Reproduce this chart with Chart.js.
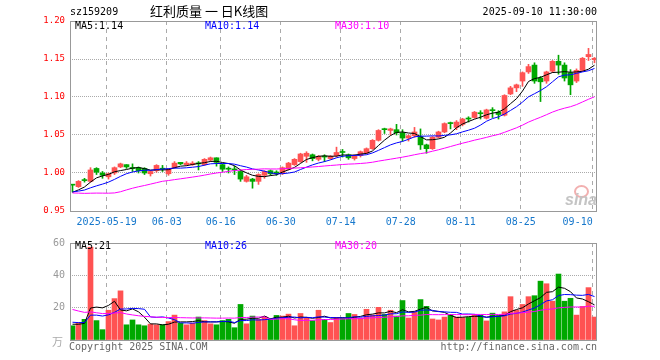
<!DOCTYPE html>
<html>
<head>
<meta charset="utf-8">
<script src="https://cdn.jsdelivr.net/npm/chart.js@4.4.1/dist/chart.umd.min.js"></script>
<style>
html, body { margin: 0; padding: 0; background: #fff; }
#wrap { position: relative; width: 660px; height: 360px; overflow: hidden; background: #fff;
        font-family: "DejaVu Sans Mono", monospace; font-size: 10px; }
#wrap canvas { position: absolute; left: 0; }
.t { position: absolute; white-space: pre; line-height: 12px; }
</style>
</head>
<body>
<div id="wrap">
  <canvas id="priceChart" width="660" height="232" style="top:0;width:660px;height:232px"></canvas>
  <canvas id="volChart" width="660" height="128" style="top:232px;width:660px;height:128px"></canvas>

  <div class="t" style="left:70px;top:6px;">sz159209</div>
  <div class="t" style="left:150px;top:3px;font:13px 'Noto Sans CJK SC';line-height:16px;">红利质量 一 日K线图</div>
  <div class="t" style="right:63px;top:6px;">2025-09-10 11:30:00</div>

  <div class="t" id="ma5Label" style="left:75px;top:20px;color:#000;"></div>
  <div class="t" id="ma10Label" style="left:205px;top:20px;color:#0000ff;"></div>
  <div class="t" id="ma30Label" style="left:335px;top:20px;color:#ff00ff;"></div>

  <div class="t" id="vma5Label" style="left:75px;top:240px;color:#000;"></div>
  <div class="t" id="vma10Label" style="left:205px;top:240px;color:#0000ff;"></div>
  <div class="t" id="vma30Label" style="left:335px;top:240px;color:#ff00ff;"></div>

  <div class="t" style="left:52px;top:333px;color:#aaa;font:11px 'Noto Sans CJK SC';">万</div>
  <div class="t" style="left:69px;top:341px;color:#666;">Copyright 2025 SINA.COM</div>
  <div class="t" style="right:63px;top:341px;color:#666;">http://finance.sina.com.cn</div>

  <div style="position:absolute;left:574px;top:185px;width:11px;height:9px;border:2px solid #f2b0b0;border-radius:50%;"></div>
  <div class="t" style="left:565px;top:192px;color:#c4c4c4;font:italic bold 16px 'Liberation Sans';line-height:16px;">sina</div>
</div>

<script>
// trading days shown (2025)
const dates = [
  '05-09','05-12','05-13','05-14','05-15','05-16','05-19','05-20','05-21','05-22','05-23',
  '05-26','05-27','05-28','05-29','05-30','06-03','06-04','06-05','06-06',
  '06-09','06-10','06-11','06-12','06-13','06-16','06-17','06-18','06-19','06-20',
  '06-23','06-24','06-25','06-26','06-27','06-30','07-01','07-02','07-03','07-04',
  '07-07','07-08','07-09','07-10','07-11','07-14','07-15','07-16','07-17','07-18',
  '07-21','07-22','07-23','07-24','07-25','07-28','07-29','07-30','07-31','08-01',
  '08-04','08-05','08-06','08-07','08-08','08-11','08-12','08-13','08-14','08-15',
  '08-18','08-19','08-20','08-21','08-22','08-25','08-26','08-27','08-28','08-29',
  '09-01','09-02','09-03','09-04','09-05','09-08','09-09','09-10'
];

const tickDates = ['05-19','06-03','06-16','06-30','07-14','07-28','08-11','08-25','09-10'];
const tickLabels = ['2025-05-19','06-03','06-16','06-30','07-14','07-28','08-11','08-25','09-10'];
const priceTicks = [0.95, 1.00, 1.05, 1.10, 1.15, 1.20];
const volTicks = [0, 20, 40, 60];

const opens = [
  0.985,0.982,0.991,0.989,1.006,1.000,0.995,1.000,1.008,1.011,
  1.007,1.007,1.006,0.999,1.003,1.006,0.999,1.007,1.014,1.011,
  1.011,1.013,1.011,1.017,1.020,1.011,1.006,1.005,1.002,0.989,
  0.992,0.989,0.997,1.003,1.001,1.000,1.005,1.011,1.015,1.022,
  1.024,1.018,1.022,1.019,1.023,1.028,1.024,1.019,1.023,1.026,
  1.032,1.043,1.058,1.056,1.057,1.053,1.046,1.049,1.048,1.037,
  1.032,1.047,1.054,1.066,1.060,1.064,1.072,1.073,1.079,1.072,
  1.083,1.080,1.076,1.104,1.112,1.121,1.133,1.142,1.125,1.121,
  1.134,1.147,1.142,1.132,1.121,1.135,1.153,1.149
];
const highs = [
  0.985,0.990,0.993,1.007,1.007,1.002,1.000,1.008,1.013,1.011,
  1.012,1.008,1.007,1.003,1.011,1.010,1.006,1.015,1.014,1.015,
  1.015,1.015,1.019,1.021,1.020,1.012,1.008,1.009,1.004,0.997,
  0.993,0.999,1.003,1.004,1.003,1.008,1.014,1.019,1.026,1.028,
  1.025,1.023,1.024,1.023,1.034,1.031,1.025,1.024,1.029,1.033,
  1.044,1.057,1.059,1.059,1.064,1.057,1.050,1.060,1.058,1.038,
  1.048,1.055,1.066,1.067,1.069,1.072,1.074,1.081,1.082,1.084,
  1.086,1.082,1.103,1.114,1.117,1.133,1.143,1.145,1.127,1.134,
  1.148,1.155,1.145,1.136,1.137,1.152,1.164,1.152
];
const lows = [
  0.975,0.981,0.988,0.988,0.998,0.993,0.992,0.998,1.007,1.006,
  1.002,1.000,0.998,0.996,1.001,1.002,0.997,1.006,1.011,1.010,
  1.010,1.004,1.010,1.015,1.009,1.002,1.000,0.998,0.989,0.988,
  0.980,0.985,0.993,0.997,0.997,0.998,1.004,1.010,1.014,1.014,
  1.016,1.016,1.015,1.018,1.021,1.021,1.018,1.017,1.021,1.025,
  1.031,1.042,1.052,1.050,1.050,1.042,1.042,1.047,1.031,1.026,
  1.031,1.046,1.053,1.058,1.057,1.062,1.067,1.072,1.071,1.071,
  1.073,1.071,1.075,1.103,1.107,1.114,1.131,1.118,1.094,1.118,
  1.132,1.130,1.121,1.103,1.119,1.134,1.148,1.145
];
const closes = [
  0.984,0.989,0.990,1.004,1.001,0.997,0.999,1.007,1.012,1.008,
  1.006,1.003,1.000,1.002,1.010,1.005,1.005,1.013,1.012,1.013,
  1.013,1.012,1.018,1.020,1.014,1.005,1.005,1.004,0.992,0.995,
  0.989,0.998,1.002,0.999,1.000,1.007,1.013,1.018,1.025,1.026,
  1.019,1.022,1.021,1.022,1.027,1.027,1.020,1.022,1.028,1.032,
  1.043,1.056,1.057,1.058,1.053,1.046,1.049,1.054,1.037,1.032,
  1.047,1.054,1.065,1.065,1.067,1.071,1.071,1.080,1.078,1.083,
  1.082,1.077,1.102,1.112,1.116,1.132,1.140,1.121,1.120,1.133,
  1.147,1.142,1.125,1.116,1.135,1.151,1.156,1.151
];
// volume, 万手
const volumes = [
  8.8,10.8,12.8,57.4,12.0,6.4,18.4,25.6,30.4,9.4,
  12.4,9.4,8.8,9.8,9.4,9.4,11.4,15.4,10.4,9.4,
  10.4,14.2,12.0,10.0,9.4,12.0,12.8,7.6,22.0,10.0,
  14.8,12.8,14.4,13.2,15.2,14.8,16.0,8.8,16.4,14.0,
  12.0,18.4,12.8,10.8,14.0,13.4,16.4,15.8,13.4,19.0,
  15.4,20.2,15.8,18.4,14.8,24.4,13.6,17.4,25.0,20.8,
  13.0,12.4,14.2,15.8,14.2,14.0,14.0,15.4,15.4,11.8,
  16.6,15.0,17.4,26.8,18.4,22.0,26.8,27.4,36.4,34.8,
  24.0,40.8,24.0,25.8,15.4,20.8,32.4,14.2
];
// 29 sessions before the first bar (off screen), only feed the moving averages
const prevCloses = [
  0.995,1.000,0.998,0.996,0.999,1.001,0.997,
  0.965,0.935,0.940,0.945,0.950,0.948,0.953,0.950,
  0.975,0.978,0.980,0.979,0.978,
  0.977,0.976,0.975,0.975,0.974,
  0.973,0.971,0.972,0.973
];
const prevVolumes = [
  40,38,48,28,22,18,16,
  22,35,30,25,20,18,16,15,
  14,13,14,12,13,
  13,12,12,12,12,
  11,10,10,9
];

const RED = '#ff5252';
const GREEN = '#00a800';
const BLUE = '#1778cc';

function movingAvg(prev, vals, n) {
  const all = prev.concat(vals);
  return vals.map(function(_, i) {
    const end = prev.length + i;
    let s = 0;
    for (let k = end - n + 1; k <= end; k++) s += all[k];
    return s / n;
  });
}

const tickIdx = tickDates.map(d => dates.indexOf(d));
const xs = dates.map((d, i) => i + 0.3);
const colors = closes.map((c, i) => c >= opens[i] ? RED : GREEN);

const ma5 = movingAvg(prevCloses, closes, 5);
const ma10 = movingAvg(prevCloses, closes, 10);
const ma30 = movingAvg(prevCloses, closes, 30);
const vma5 = movingAvg(prevVolumes, volumes, 5);
const vma10 = movingAvg(prevVolumes, volumes, 10);
const vma30 = movingAvg(prevVolumes, volumes, 30);

const last = dates.length - 1;
document.getElementById('ma5Label').textContent = 'MA5:' + ma5[last].toFixed(2);
document.getElementById('ma10Label').textContent = 'MA10:' + ma10[last].toFixed(2);
document.getElementById('ma30Label').textContent = 'MA30:' + ma30[last].toFixed(2);
document.getElementById('vma5Label').textContent = 'MA5:' + Math.floor(vma5[last]);
document.getElementById('vma10Label').textContent = 'MA10:' + Math.floor(vma10[last]);
document.getElementById('vma30Label').textContent = 'MA30:' + Math.floor(vma30[last]);

Chart.defaults.font.family = '"DejaVu Sans Mono", monospace';

// solid grey frame round the plot
const frame = {
  id: 'frame',
  afterDraw(chart) {
    const a = chart.chartArea, c = chart.ctx;
    c.save();
    c.strokeStyle = '#999';
    c.lineWidth = 1;
    c.strokeRect(a.left + 0.5, a.top + 0.5, a.right - a.left - 1, a.bottom - a.top);
    c.restore();
  }
};

function lineSet(vals, color) {
  return {
    type: 'line',
    data: vals.map((v, i) => ({ x: xs[i], y: v })),
    borderColor: color,
    borderWidth: 1,
    pointRadius: 0,
    tension: 0,
    order: 1
  };
}

function xScale(showLabels) {
  return {
    type: 'linear',
    min: -0.117,
    max: 87.717,
    offset: false,
    afterBuildTicks: s => { s.ticks = tickIdx.map(v => ({ value: v })); },
    afterFit: s => { s.height = showLabels ? 21 : 0; },
    grid: { offset: false, color: '#aaa', drawTicks: false },
    border: { display: false, dash: [4, 4] },
    ticks: {
      display: showLabels,
      color: BLUE,
      font: { size: 10 },
      padding: 5,
      maxRotation: 0,
      autoSkip: false,
      callback: (v, i) => i === tickLabels.length - 1 ? tickLabels[i] + '     ' : tickLabels[i]
    }
  };
}

const common = {
  responsive: false,
  animation: false,
  devicePixelRatio: 1,
  plugins: { legend: { display: false }, tooltip: { enabled: false } }
};

// price panel
new Chart(document.getElementById('priceChart').getContext('2d'), {
  type: 'bar',
  data: {
    datasets: [
      {
        data: xs.map((x, i) => ({ x: x, y: [lows[i], highs[i]] })),
        backgroundColor: colors,
        barThickness: 1,
        grouped: false,
        order: 3
      },
      {
        data: xs.map((x, i) => ({ x: x, y: [opens[i], closes[i]] })),
        backgroundColor: colors,
        barThickness: 5,
        minBarLength: 1,
        grouped: false,
        order: 2
      },
      lineSet(ma30, '#ff00ff'),
      lineSet(ma10, '#0000ff'),
      lineSet(ma5, '#000000')
    ]
  },
  options: Object.assign({}, common, {
    layout: { padding: { left: 0, right: 63, top: 21, bottom: 0 } },
    scales: {
      x: xScale(true),
      y: {
        min: 0.95,
        max: 1.20,
        afterBuildTicks: s => { s.ticks = priceTicks.map(v => ({ value: v })); },
        afterFit: s => { s.width = 70; },
        grid: {
          drawTicks: false,
          color: ctx => (ctx.index === 0 || ctx.index === priceTicks.length - 1) ? 'rgba(0,0,0,0)' : '#aaa'
        },
        border: { display: false, dash: [1, 1] },
        ticks: { color: '#ff0000', font: { size: 9 }, padding: 5, callback: v => v.toFixed(2) }
      }
    }
  }),
  plugins: [frame]
});

// volume panel
new Chart(document.getElementById('volChart').getContext('2d'), {
  type: 'bar',
  data: {
    datasets: [
      {
        data: xs.map((x, i) => ({ x: x, y: volumes[i] })),
        backgroundColor: colors,
        barThickness: 5,
        grouped: false,
        order: 2
      },
      lineSet(vma30, '#ff00ff'),
      lineSet(vma10, '#0000ff'),
      lineSet(vma5, '#000000')
    ]
  },
  options: Object.assign({}, common, {
    layout: { padding: { left: 0, right: 63, top: 8, bottom: 20 } },
    scales: {
      x: xScale(false),
      y: {
        min: 0,
        max: 60,
        afterBuildTicks: s => { s.ticks = volTicks.map(v => ({ value: v })); },
        afterFit: s => { s.width = 70; },
        grid: {
          drawTicks: false,
          color: ctx => (ctx.index === 0 || ctx.index === volTicks.length - 1) ? 'rgba(0,0,0,0)' : '#aaa'
        },
        border: { display: false, dash: [1, 1] },
        ticks: { color: '#999', font: { size: 10 }, padding: 5, callback: v => v === 0 ? '' : String(v) }
      }
    }
  }),
  plugins: [frame]
});
</script>
</body>
</html>
